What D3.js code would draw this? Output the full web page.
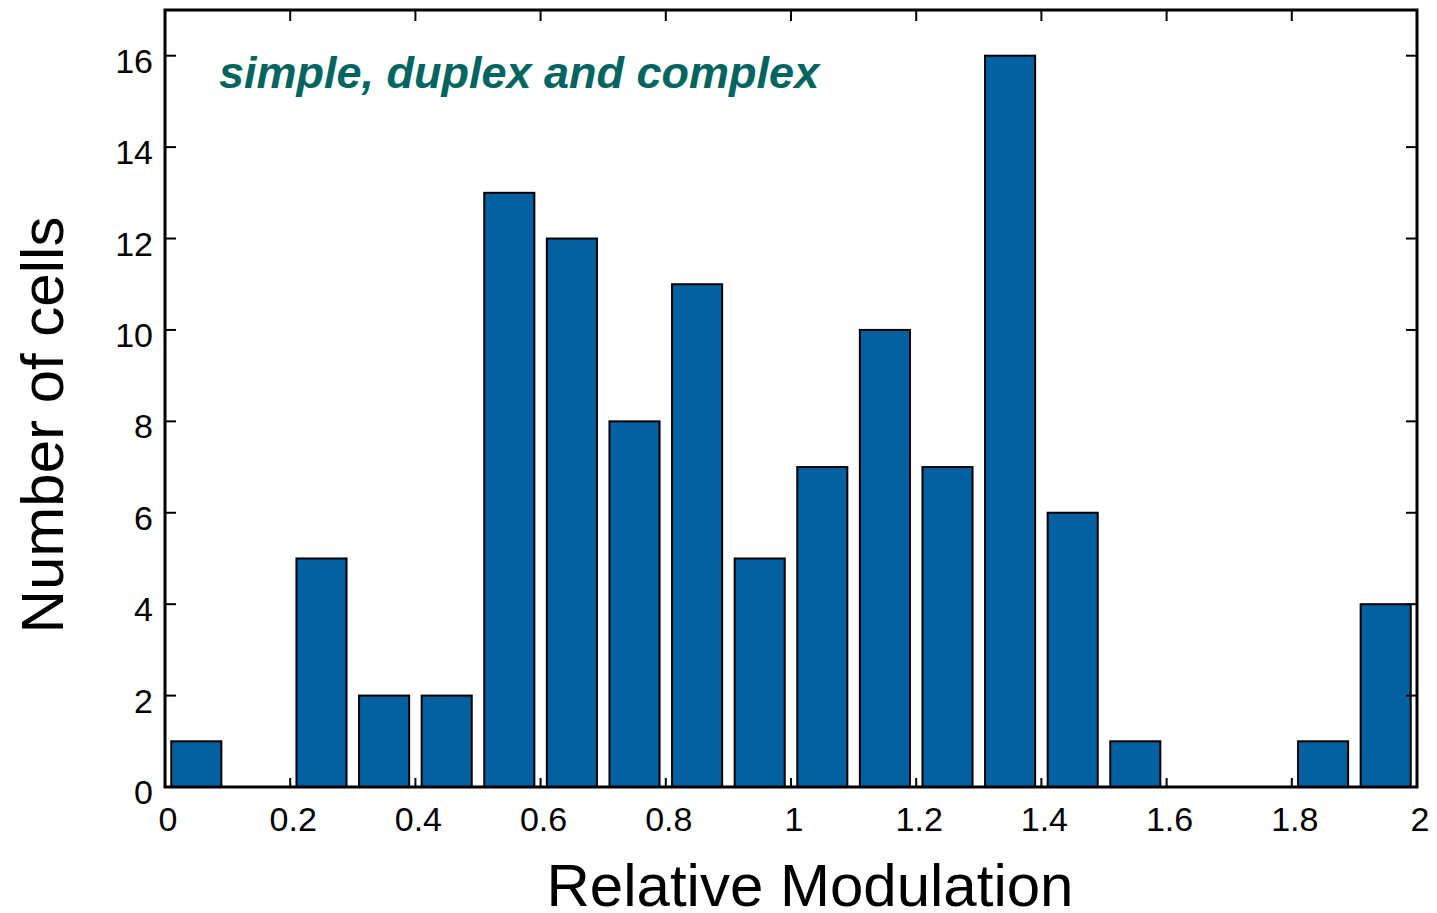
<!DOCTYPE html>
<html><head><meta charset="utf-8">
<script src="https://cdn.jsdelivr.net/npm/d3@7"></script>
<style>body{margin:0;background:#fff}svg{display:block}</style>
</head><body>
<script>
const binStarts = [0,0.1,0.2,0.3,0.4,0.5,0.6,0.7,0.8,0.9,1.0,1.1,1.2,1.3,1.4,1.5,1.6,1.7,1.8,1.9];
const counts = [1,0,5,2,2,13,12,8,11,5,7,10,7,16,6,1,0,0,1,4];
const xTicks = [0,0.2,0.4,0.6,0.8,1,1.2,1.4,1.6,1.8,2];
const yTicks = [0,2,4,6,8,10,12,14,16];
const binWidth = 0.1;

const W=1437,H=913;
const m={left:165,right:1417,top:10,bottom:787};
const svg=d3.select("body").append("svg").attr("width",W).attr("height",H);
const x=d3.scaleLinear().domain([0,2]).range([m.left,m.right]);
const y=d3.scaleLinear().domain([0,17]).range([m.bottom,m.top]);

const bw = (x(binWidth)-x(0))*0.8;
svg.append("g").selectAll("rect").data(counts.map((c,i)=>({s:binStarts[i],c}))).join("rect")
  .attr("x",d=>x(d.s+binWidth/2)-bw/2)
  .attr("width",bw)
  .attr("y",d=>y(d.c))
  .attr("height",d=>y(0)-y(d.c))
  .attr("fill","#0461a1").attr("stroke","#000").attr("stroke-width",2);

const font="'Liberation Sans', Arial, sans-serif";
const tl=11;
const ax=svg.append("g").attr("stroke","#000").attr("stroke-width",2);
ax.selectAll(".yl").data(yTicks).join("line").attr("x1",m.left).attr("x2",m.left+tl).attr("y1",d=>y(d)).attr("y2",d=>y(d));
ax.selectAll(".yr").data(yTicks).join("line").attr("x1",m.right).attr("x2",m.right-tl).attr("y1",d=>y(d)).attr("y2",d=>y(d));
ax.selectAll(".xb").data(xTicks).join("line").attr("y1",m.bottom).attr("y2",m.bottom-9).attr("x1",d=>x(d)).attr("x2",d=>x(d));
ax.selectAll(".xt").data(xTicks).join("line").attr("y1",m.top).attr("y2",m.top+tl).attr("x1",d=>x(d)).attr("x2",d=>x(d));
svg.append("rect").attr("x",m.left).attr("y",m.top).attr("width",m.right-m.left).attr("height",m.bottom-m.top)
  .attr("fill","none").attr("stroke","#000").attr("stroke-width",3);

svg.append("g").selectAll("text").data(yTicks).join("text")
  .attr("x",m.left-12).attr("y",d=>y(d)+17).attr("text-anchor","end")
  .attr("font-family",font).attr("font-size",34).text(d=>d);
svg.append("g").selectAll("text").data(xTicks).join("text")
  .attr("x",d=>x(d)+3).attr("y",831).attr("text-anchor","middle")
  .attr("font-family",font).attr("font-size",34).text(d=>d);

svg.append("text").attr("x",810).attr("y",906).attr("text-anchor","middle")
  .attr("font-family",font).attr("font-size",60).text("Relative Modulation");
svg.append("text").attr("transform","translate(63,425) rotate(-90)").attr("text-anchor","middle")
  .attr("font-family",font).attr("font-size",60).text("Number of cells");
svg.append("text").attr("x",219).attr("y",88)
  .attr("font-family",font).attr("font-size",45).attr("font-weight","bold").attr("font-style","italic")
  .attr("fill","#006460").text("simple, duplex and complex");
</script>
</body></html>
